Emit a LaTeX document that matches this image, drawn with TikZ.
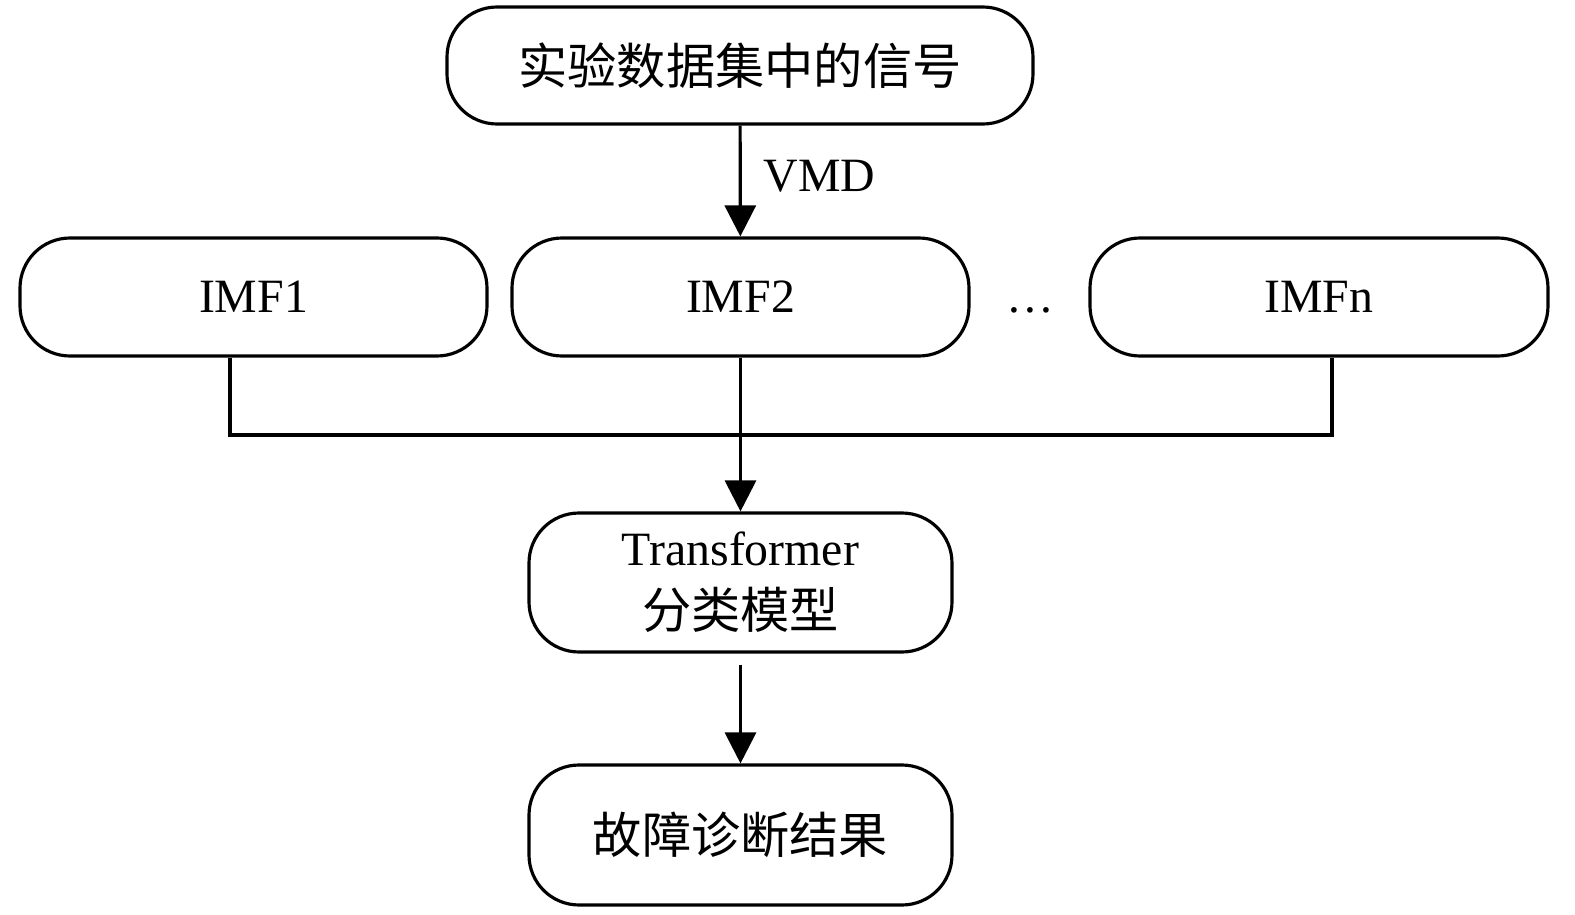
\documentclass[tikz,border=0pt]{standalone}
\usepackage{fontspec}
\setmainfont{Liberation Serif}
\newfontfamily\cjk[Scale=1.03]{Noto Sans CJK SC}
\usetikzlibrary{arrows.meta}
\tikzset{
    stepbox/.style={draw, line width=0.9pt, rounded corners=0.5cm, align=center,
        font=\fontsize{13.6}{18}\selectfont, inner sep=0pt},
    flow/.style={line width=0.9pt, -{Triangle[length=0.31cm,width=0.31cm]}}
}
\begin{document}
\begin{tikzpicture}[line width=0.9pt]
\useasboundingbox (0,0) rectangle (15.75,-9.15);
\node[stepbox, minimum width=5.86cm, minimum height=1.17cm] (sig) at (7.40,-0.655) {\cjk 实验数据集中的信号};
\node[stepbox, minimum width=4.67cm, minimum height=1.18cm] (imf1) at (2.535,-2.97) {IMF1};
\node[stepbox, minimum width=4.57cm, minimum height=1.18cm] (imf2) at (7.405,-2.97) {IMF2};
\node[stepbox, minimum width=4.58cm, minimum height=1.18cm] (imfn) at (13.19,-2.97) {IMFn};
\node[font=\fontsize{13.6}{18}\selectfont, anchor=base] (dots) at (10.30,-3.12) {\ldots};
\node[stepbox, minimum width=4.23cm, minimum height=1.39cm] (trans) at (7.405,-5.825) {Transformer\\{\cjk 分类模型}};
\node[stepbox, minimum width=4.23cm, minimum height=1.40cm] (res) at (7.405,-8.35) {\cjk 故障诊断结果};
\coordinate (join) at (7.40,-4.35);
\draw[flow] (sig) -- node[right, font=\fontsize{13.6}{16}\selectfont, xshift=0.1cm, yshift=0.05cm]{VMD} (imf2);
\draw ([xshift=-0.235cm]imf1.south) |- (join) -| ([xshift=0.13cm]imfn.south);
\draw[flow] (imf2) -- (trans);
\draw[flow] ([yshift=-0.11cm]trans.south) -- (res);
\end{tikzpicture}
\end{document}
